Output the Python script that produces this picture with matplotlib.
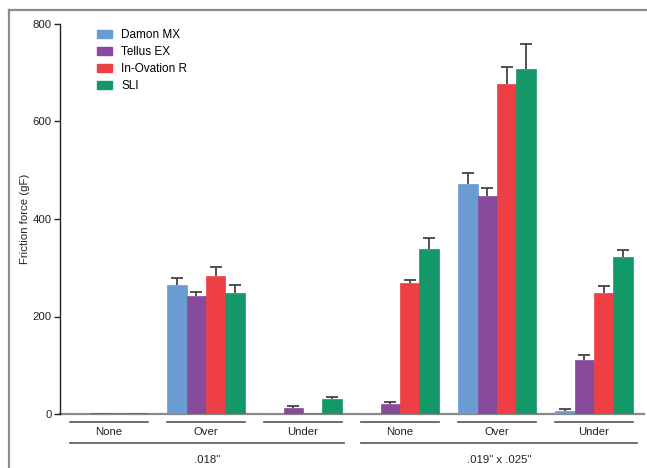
import matplotlib
matplotlib.use("Agg")
import matplotlib.pyplot as plt
import matplotlib.transforms as mtransforms
from matplotlib.lines import Line2D
from matplotlib.patches import Patch
import numpy as np

plt.rcParams['font.family'] = ['Liberation Sans', 'DejaVu Sans']

series = ["Damon MX", "Tellus EX", "In-Ovation R", "SLI"]
colors = ["#6A9BD3", "#884A9B", "#EE3F44", "#159868"]
sub_labels = ["None", "Over", "Under", "None", "Over", "Under"]
wire_labels = ['.018"', '.019" x .025"']

# values per series across the 6 groups
means = {
    "Damon MX":     [2.5, 265, 2.5, 2.5, 471, 7],
    "Tellus EX":    [2.5, 242, 13, 20, 447, 111],
    "In-Ovation R": [2.5, 283, 2.5, 268, 676, 248],
    "SLI":          [2.5, 248, 30, 339, 707, 323],
}
errors = {
    "Damon MX":     [0, 13, 0, 0, 24, 3],
    "Tellus EX":    [0, 8, 3, 5, 17, 10],
    "In-Ovation R": [0, 19, 0, 7, 35, 15],
    "SLI":          [0, 17, 4, 22, 52, 14],
}

fig = plt.figure(figsize=(6.47, 4.68), dpi=100)
ax = fig.add_axes([60/647, 1-414/468, 584/647, 390/468])

x = np.arange(len(sub_labels))
w = 0.2
for i, s in enumerate(series):
    pos = x - 0.3 + i * w
    m = np.array(means[s], dtype=float)
    e = np.array(errors[s], dtype=float)
    ax.bar(pos, m, width=w, color=colors[i], edgecolor=colors[i], linewidth=0.5, zorder=2)
    mask = e > 0
    cont = ax.errorbar(pos[mask], m[mask], yerr=[np.zeros(mask.sum()), e[mask]], fmt='none',
                       ecolor='#444444', elinewidth=1.3, capsize=4.5, capthick=1.3, zorder=3)
    caplines = cont.lines[1]
    if len(caplines) >= 2:
        caplines[0].set_visible(False)

ax.set_xlim(-0.505, 5.515)
ax.set_ylim(0, 800)
ax.set_yticks([0, 200, 400, 600, 800])
ax.set_xticks([])
for sp in ['top', 'right']:
    ax.spines[sp].set_visible(False)
ax.spines['left'].set_color('#222222')
ax.spines['left'].set_linewidth(1.0)
ax.spines['bottom'].set_color('#888888')
ax.spines['bottom'].set_linewidth(1.6)
ax.spines['bottom'].set_zorder(1)
ax.tick_params(axis='y', direction='out', length=4, width=1.0, color='#222222',
               labelsize=8.2, labelcolor='#222222', pad=2)
ax.set_ylabel("Friction force (gF)", fontsize=8.2, color='#222222')
ax.yaxis.set_label_coords(-0.051, 0.5)

trans = mtransforms.blended_transform_factory(ax.transData, ax.transAxes)
for i, lab in enumerate(sub_labels):
    ax.add_line(Line2D([i - 0.4, i + 0.4], [-0.0197, -0.0197], transform=trans,
                       color='#555555', linewidth=1.2, clip_on=False))
    ax.text(i, -0.047, lab, transform=trans, ha='center', va='center',
            fontsize=8.2, color='#222222')

spans = [(-0.4, 2.42), (2.6, 5.44)]
for (a, b), lab in zip(spans, wire_labels):
    ax.add_line(Line2D([a, b], [-0.0736, -0.0736], transform=trans,
                       color='#555555', linewidth=1.2, clip_on=False))
    ax.text((a + b) / 2, -0.118, lab, transform=trans, ha='center', va='center',
            fontsize=8.2, color='#222222')

handles = [Patch(facecolor=c, edgecolor=c) for c in colors]
ax.legend(handles, series, loc='upper left', bbox_to_anchor=(0.052, 1.005),
          frameon=False, fontsize=8.5, handlelength=1.2, handleheight=0.6,
          labelspacing=0.42, handletextpad=0.8, borderaxespad=0.2)

# figure frame (left and top)
fig.add_artist(Line2D([8.5/647, 8.5/647], [0, 1-10/468], transform=fig.transFigure,
                      color='#8c8c8c', linewidth=1.6))
fig.add_artist(Line2D([8.5/647, 1], [1-10/468, 1-10/468], transform=fig.transFigure,
                      color='#8c8c8c', linewidth=1.6))

fig.savefig("out.png", dpi=100)
